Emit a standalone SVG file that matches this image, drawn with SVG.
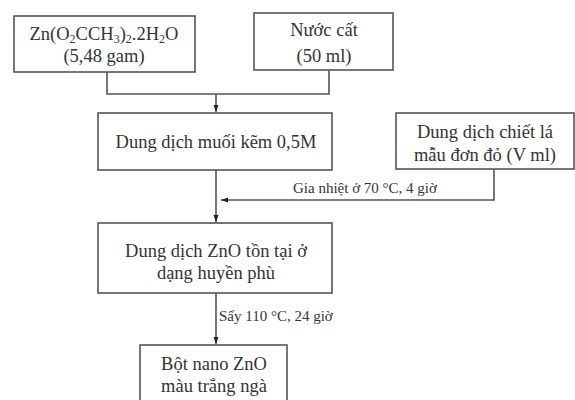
<svg xmlns="http://www.w3.org/2000/svg" width="575" height="400" viewBox="0 0 575 400">
<defs>
<marker id="ah" markerWidth="8" markerHeight="8" refX="7" refY="4" orient="auto" markerUnits="userSpaceOnUse">
<path d="M0,1.5 L7,4 L0,6.5 Z" fill="#222"/>
</marker>
<style>
.box{fill:#fff;stroke:#555;stroke-width:1.6}
.t{font-size:18.5px;fill:#333;text-anchor:middle}
.s{font-size:15px;fill:#333}
.c{fill:none;stroke:#555;stroke-width:1.6}
</style>
</defs>
<rect width="575" height="400" fill="#fff"/>
<g font-family="'Liberation Serif', 'Times New Roman', 'DejaVu Serif', serif">
<g id="connectors">
<polyline class="c" points="107,72 107,94 329,94 329,70"/>
<line class="c" x1="216" y1="94" x2="216" y2="112" marker-end="url(#ah)"/>
<line class="c" x1="216" y1="170" x2="216" y2="222" marker-end="url(#ah)"/>
<polyline class="c" points="494,169 494,200 221,200" marker-end="url(#ah)"/>
<line class="c" x1="216" y1="293" x2="216" y2="344" marker-end="url(#ah)"/>
<text class="s" x="293" y="193">Gia nhiệt ở 70 °C, 4 giờ</text>
<text class="s" x="219" y="321">Sấy 110 °C, 24 giờ</text>
</g>
<g id="n1">
<rect class="box" x="14" y="16" width="181" height="56"/>
<text class="t" x="104" y="40">Zn(O<tspan font-size="12" dy="3">2</tspan><tspan dy="-3">CCH</tspan><tspan font-size="12" dy="3">3</tspan><tspan dy="-3">)</tspan><tspan font-size="12" dy="3">2</tspan><tspan dy="-3">.2H</tspan><tspan font-size="12" dy="3">2</tspan><tspan dy="-3">O</tspan></text>
<text class="t" x="104" y="62">(5,48 gam)</text>
</g>
<g id="n2">
<rect class="box" x="254" y="13" width="139" height="57"/>
<text class="t" x="324" y="36">Nước cất</text>
<text class="t" x="324" y="62">(50 ml)</text>
</g>
<g id="n3">
<rect class="box" x="98" y="113" width="234" height="57"/>
<text class="t" x="216" y="148">Dung dịch muối kẽm 0,5M</text>
</g>
<g id="n4">
<rect class="box" x="396" y="113" width="178" height="56"/>
<text class="t" x="485" y="138">Dung dịch chiết lá</text>
<text class="t" x="485" y="161">mẫu đơn đỏ (V ml)</text>
</g>
<g id="n5">
<rect class="box" x="98" y="223" width="234" height="70"/>
<text class="t" x="216" y="257">Dung dịch ZnO tồn tại ở</text>
<text class="t" x="216" y="279">dạng huyền phù</text>
</g>
<g id="n6">
<rect class="box" x="140" y="345" width="147" height="62"/>
<text class="t" x="214" y="370">Bột nano ZnO</text>
<text class="t" x="214" y="392">màu trắng ngà</text>
</g>
</g>
</svg>
